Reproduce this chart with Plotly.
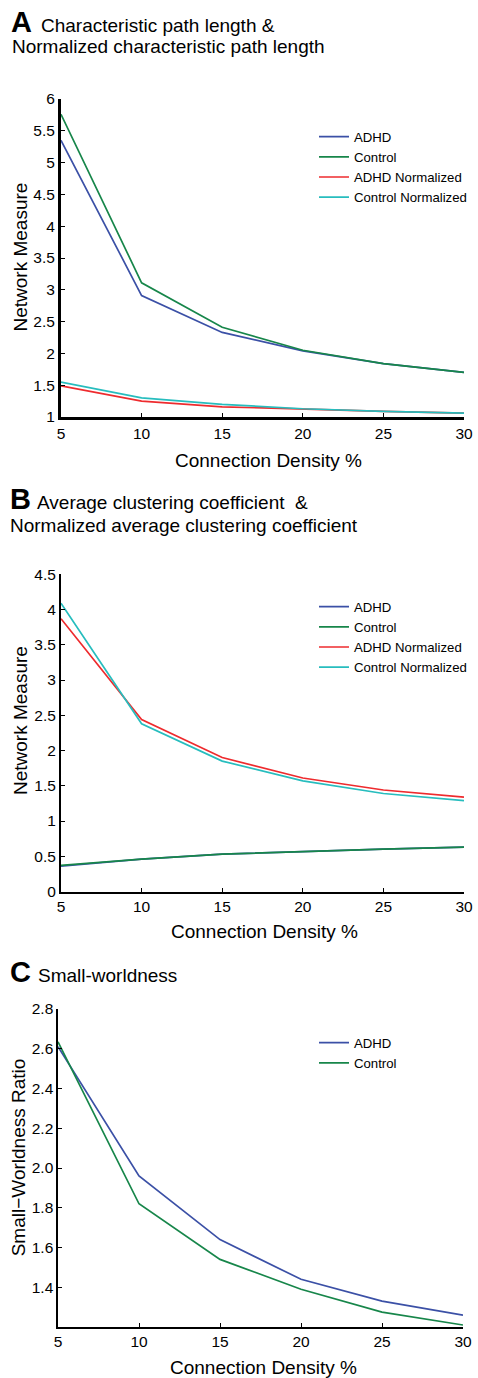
import plotly.graph_objects as go

# ---------------- data ----------------
density = [5, 10, 15, 20, 25, 30]

# Panel A: characteristic path length
lp_adhd = [5.35, 2.91, 2.33, 2.04, 1.84, 1.70]
lp_control = [5.76, 3.11, 2.41, 2.05, 1.84, 1.70]
lp_adhd_norm = [1.49, 1.25, 1.16, 1.12, 1.09, 1.06]
lp_control_norm = [1.55, 1.30, 1.20, 1.13, 1.09, 1.06]

# Panel B: average clustering coefficient
cc_adhd = [0.36, 0.46, 0.53, 0.57, 0.60, 0.63]
cc_control = [0.37, 0.46, 0.53, 0.57, 0.60, 0.63]
cc_adhd_norm = [3.87, 2.44, 1.90, 1.61, 1.44, 1.34]
cc_control_norm = [4.09, 2.38, 1.85, 1.57, 1.39, 1.29]

# Panel C: small-worldness
sw_adhd = [2.61, 1.96, 1.64, 1.44, 1.33, 1.26]
sw_control = [2.635, 1.82, 1.54, 1.39, 1.275, 1.21]

x_ticks = [5, 10, 15, 20, 25, 30]
sw_ticks = [1.4, 1.6, 1.8, 2.0, 2.2, 2.4, 2.6, 2.8]

# ---------------- style ----------------
W, H = 478, 1378
FONT = "Liberation Sans, Arial, Helvetica, sans-serif"
C_ADHD = "#3B50A6"
C_CTRL = "#17864A"
C_ADHD_N = "#EE2B2E"
C_CTRL_N = "#27BDBE"
LW = 1.7


def px(x):
    return x / W


def py(y):
    return 1 - y / H


fig = go.Figure()


def add(xs, ys, name, color, xa, ya, legend):
    fig.add_trace(go.Scatter(x=xs, y=ys, name=name, mode="lines",
                             line=dict(color=color, width=LW),
                             xaxis=xa, yaxis=ya, legend=legend))


add(density, lp_adhd, "ADHD", C_ADHD, "x", "y", "legend")
add(density, lp_control, "Control", C_CTRL, "x", "y", "legend")
add(density, lp_adhd_norm, "ADHD Normalized", C_ADHD_N, "x", "y", "legend")
add(density, lp_control_norm, "Control Normalized", C_CTRL_N, "x", "y", "legend")

add(density, cc_adhd, "ADHD", C_ADHD, "x2", "y2", "legend2")
add(density, cc_control, "Control", C_CTRL, "x2", "y2", "legend2")
add(density, cc_adhd_norm, "ADHD Normalized", C_ADHD_N, "x2", "y2", "legend2")
add(density, cc_control_norm, "Control Normalized", C_CTRL_N, "x2", "y2", "legend2")

add(density, sw_adhd, "ADHD", C_ADHD, "x3", "y3", "legend3")
add(density, sw_control, "Control", C_CTRL, "x3", "y3", "legend3")

tickfont = dict(family=FONT, size=15.5, color="black")


def xax(domain, anchor, lw):
    return dict(domain=domain, anchor=anchor, range=[5, 30], tickvals=x_ticks,
                ticks="inside", ticklen=4, tickwidth=1, tickcolor="black",
                showline=True, linewidth=lw, linecolor="black", mirror=False,
                showgrid=False, zeroline=False, tickfont=tickfont,
                automargin=False, fixedrange=True)


def yax(domain, anchor, lw, rng, **kw):
    d = dict(domain=domain, anchor=anchor, range=rng,
             ticks="inside", ticklen=4, tickwidth=1, tickcolor="black",
             showline=True, linewidth=lw, linecolor="black", mirror=False,
             showgrid=False, zeroline=False, tickfont=tickfont,
             automargin=False, fixedrange=True)
    d.update(kw)
    return d


legend_common = dict(xanchor="left", yanchor="top", bgcolor="rgba(0,0,0,0)",
                     font=dict(family=FONT, size=13.2, color="black"),
                     tracegroupgap=0)

fig.update_layout(
    width=W, height=H, autosize=False,
    margin=dict(l=0, r=0, t=0, b=0, pad=0),
    paper_bgcolor="white", plot_bgcolor="white",
    font=dict(family=FONT, color="black"),
    xaxis=xax([px(61), px(464)], "y", 3),
    yaxis=yax([py(417), py(99)], "x", 3, [1, 6], dtick=0.5, tick0=1),
    xaxis2=xax([px(61), px(464)], "y2", 2),
    yaxis2=yax([py(891.5), py(574.3)], "x2", 2, [0, 4.5], dtick=0.5, tick0=0),
    xaxis3=xax([px(58), px(463)], "y3", 1.6),
    yaxis3=yax([py(1327), py(1009)], "x3", 1.6, [1.2, 2.8],
               tickvals=sw_ticks, tickformat=".1f"),
    legend=dict(x=px(314), y=py(121.6), **legend_common),
    legend2=dict(x=px(314), y=py(591.6), **legend_common),
    legend3=dict(x=px(314), y=py(1027.6), **legend_common),
    showlegend=True,
)

TITLE_FS = 19
LETTER_FS = 29


def text(x, y, s, size=TITLE_FS, xanchor="left", bold=False, angle=0,
         yanchor="middle"):
    fig.add_annotation(x=px(x), y=py(y), xref="paper", yref="paper",
                       text=("<b>%s</b>" % s) if bold else s,
                       showarrow=False, xanchor=xanchor, yanchor=yanchor,
                       textangle=angle,
                       font=dict(family=FONT, size=size, color="black"))


def baseline_center(b, fs):
    return b - 0.3465 * fs


# panel titles
text(9, baseline_center(31.7, LETTER_FS), "A", size=LETTER_FS, bold=True)
text(39, baseline_center(31.7, TITLE_FS), "Characteristic path length &")
text(9.5, baseline_center(53.3, TITLE_FS), "Normalized characteristic path length")

text(8, baseline_center(509.3, LETTER_FS), "B", size=LETTER_FS, bold=True)
text(35, baseline_center(509.3, TITLE_FS), "Average clustering coefficient  &")
text(8, baseline_center(531.7, TITLE_FS), "Normalized average clustering coefficient")

text(8, baseline_center(981.7, LETTER_FS), "C", size=LETTER_FS, bold=True)
text(36, baseline_center(981.7, TITLE_FS), "Small-worldness")

# axis titles
text(268, 460, "Connection Density %", xanchor="center")
text(264, 931, "Connection Density %", xanchor="center")
text(263, 1367, "Connection Density %", xanchor="center")

text(20, 257.5, "Network Measure", xanchor="center", angle=-90)
text(20, 721, "Network Measure", xanchor="center", angle=-90)
text(18.3, 1157, "Small−Worldness Ratio", xanchor="center", angle=-90)

# remove the default page margin so the 478x1378 figure fills the window
fig.write_html("out.html",
               config={"displayModeBar": False, "staticPlot": True},
               post_script="document.body.style.margin='0';"
                           "document.body.style.overflow='hidden';")
